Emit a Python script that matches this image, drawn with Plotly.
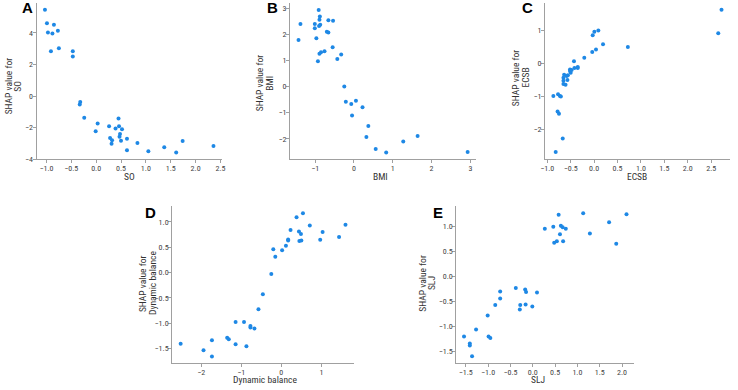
import plotly.graph_objects as go

# ---------------- data ----------------
so_x = [-1.03, -0.99, -0.85, -0.97, -0.88, -0.77, -0.91, -0.75, -0.47, -0.47,
        -0.32, -0.33, -0.24, 0.03, -0.01, 0.26, 0.45, 0.46, 0.39, 0.52,
        0.48, 0.47, 0.28, 0.32, 0.31, 0.50, 0.62, 0.62, 0.83, 1.05,
        1.37, 1.61, 1.74, 2.36]
so_shap = [5.46, 4.60, 4.52, 4.02, 3.96, 4.13, 2.83, 3.02, 2.83, 2.50,
           -0.37, -0.54, -1.37, -1.73, -2.23, -1.91, -1.42, -1.91, -2.05, -2.10,
           -2.40, -2.58, -2.66, -2.79, -3.01, -2.83, -2.70, -3.43, -2.97, -3.50,
           -3.24, -3.57, -2.84, -3.16]

bmi_x = [-1.43, -1.38, -1.01, -1.01, -0.91, -0.88, -0.89, -0.87, -0.90, -0.97,
         -0.66, -0.54, -0.70, -0.66, -0.55, -0.76, -0.85, -0.89, -0.93, -0.43,
         -0.33, -0.25, -0.21, 0.05, -0.07, -0.05, 0.22, 0.37, 0.32, 0.56,
         0.83, 1.27, 1.64, 2.93]
bmi_shap = [1.78, 2.39, 2.39, 2.23, 2.93, 2.68, 2.56, 2.37, 2.32, 1.85,
            2.54, 2.52, 2.10, 2.07, 1.50, 1.35, 1.31, 1.26, 0.97, 1.05,
            1.23, 0.00, -0.58, -0.54, -0.67, -1.11, -0.79, -1.51, -1.93, -2.39,
            -2.52, -2.10, -1.89, -2.51]

ecsb_x = [-0.87, -0.82, -0.77, -0.73, -0.71, -0.78, -0.75, -0.67, -0.655, -0.61,
          -0.655, -0.655, -0.64, -0.57, -0.585, -0.56, -0.515, -0.50, -0.515, -0.48,
          -0.42, -0.43, -0.35, -0.35, -0.21, -0.04, 0.04, -0.03, 0.005, 0.09,
          0.19, 0.72, 2.65, 2.72]
ecsb_shap = [-0.98, -2.68, -0.93, -0.98, -1.00, -1.45, -1.52, -2.27, -0.62, -0.64,
             -0.52, -0.43, -0.34, -0.50, -0.38, -0.36, -0.18, -0.28, -0.23, -0.20,
             -0.14, 0.07, -0.11, -0.14, 0.17, 0.35, 0.42, 0.85, 0.96, 1.00,
             0.58, 0.50, 0.91, 1.62]

db_x = [-2.51, -1.94, -1.73, -1.73, -1.35, -1.31, -1.14, -1.14, -0.93, -0.87,
        -0.77, -0.77, -0.67, -0.57, -0.46, -0.25, -0.20, -0.15, 0.02, 0.115,
        0.17, 0.17, 0.23, 0.38, 0.54, 0.44, 0.49, 0.45, 0.50, 0.71,
        0.97, 1.03, 1.44, 1.60]
db_shap = [-1.41, -1.54, -1.34, -1.66, -1.29, -1.32, -0.98, -1.42, -0.98, -1.46,
           -1.06, -1.09, -1.11, -0.73, -0.43, -0.03, 0.46, 0.31, 0.44, 0.53,
           0.65, 0.63, 0.84, 1.09, 1.17, 0.81, 0.76, 0.62, 0.63, 0.93,
           0.645, 0.80, 0.70, 0.945]

slj_x = [-1.54, -1.41, -1.41, -1.36, -1.27, -1.01, -0.99, -0.95, -0.84, -0.73,
         -0.73, -0.38, -0.17, -0.15, -0.28, -0.16, -0.29, -0.01, 0.095, 0.27,
         0.46, 0.58, 0.63, 0.67, 0.74, 0.61, 0.48, 0.54, 0.68, 1.13,
         1.28, 1.71, 1.87, 2.10]
slj_shap = [-1.20, -1.34, -1.375, -1.59, -1.06, -0.78, -1.20, -1.23, -0.57, -0.30,
            -0.44, -0.23, -0.26, -0.31, -0.57, -0.56, -0.66, -0.60, -0.32, 0.95,
            0.99, 1.23, 1.01, 0.98, 0.95, 0.84, 0.67, 0.70, 0.70, 1.26,
            0.855, 1.08, 0.65, 1.24]

features = ["SO", "BMI", "ECSB", "Dynamic balance", "SLJ"]
letters = ["A", "B", "C", "D", "E"]
ylabel_prefix = "SHAP value for"
xs = [so_x, bmi_x, ecsb_x, db_x, slj_x]
ys = [so_shap, bmi_shap, ecsb_shap, db_shap, slj_shap]

x_ticks = [[-1.0, -0.5, 0.0, 0.5, 1.0, 1.5, 2.0, 2.5],
           [-1, 0, 1, 2, 3],
           [-1.0, -0.5, 0.0, 0.5, 1.0, 1.5, 2.0, 2.5],
           [-2, -1, 0, 1],
           [-1.5, -1.0, -0.5, 0.0, 0.5, 1.0, 1.5, 2.0]]
x_fmt = [".1f", "d", ".1f", "d", ".1f"]
y_ticks = [[-4, -2, 0, 2, 4],
           [-2, -1, 0, 1, 2, 3],
           [-2, -1, 0, 1],
           [-1.5, -1.0, -0.5, 0.0, 0.5, 1.0],
           [-1.5, -1.0, -0.5, 0.0, 0.5, 1.0]]
y_fmt = ["d", "d", "d", ".1f", ".1f"]

# ---------------- layout geometry (pixels) ----------------
W, H = 738, 390
# (left, right, top, bottom) in px
boxes = [(31.9, 219.6, 2.7, 161.5),
         (288.5, 477.0, 3.0, 161.5),
         (546.6, 733.9, 2.8, 161.3),
         (169.3, 353.2, 208.9, 368.2),
         (457.0, 636.4, 208.9, 367.9)]
x_ranges = [[-1.2, 2.53], [-1.65, 3.15], [-1.05, 2.90], [-2.72, 1.81], [-1.71, 2.26]]
y_ranges = [[-4.01, 5.91], [-2.79, 3.20], [-2.895, 1.835], [-1.80, 1.31], [-1.73, 1.40]]

letter_pos = [(23, 8), (271, 8), (529, 8), (147, 215), (438, 215)]
# y-title: (x line 1, x line 2, y centre)
ytitle_pos = [(3.5, 13, 87), (258.5, 268, 84), (517.5, 527, 79),
              (139.5, 149.5, 287), (422.5, 432, 287)]
xtitle_pos = [(126, 179), (380, 179), (640, 179), (263, 384.5), (540, 384.5)]

FONT = "Liberation Sans Narrow, Roboto Condensed, DejaVu Sans Condensed, Open Sans"
AXC = "#a0a0a0"
TXT = "#444444"

fig = go.Figure()
annotations = []
for i in range(5):
    ax = "" if i == 0 else str(i + 1)
    fig.add_trace(go.Scatter(
        x=xs[i], y=ys[i], mode="markers",
        marker=dict(size=4, color="#1E88E5", line=dict(width=0)),
        cliponaxis=False, xaxis="x" + ax, yaxis="y" + ax, hoverinfo="x+y"))
    l, r, t, b = boxes[i]
    common = dict(showline=True, linecolor=AXC, linewidth=1, ticks="outside",
                  ticklen=3, tickwidth=1, tickcolor=AXC, showgrid=False,
                  zeroline=False, ticklabelstandoff=-2,
                  tickfont=dict(family=FONT, size=8, color=TXT))
    fig.update_layout(**{
        "xaxis" + ax: dict(domain=[l / W, r / W], range=x_ranges[i],
                           anchor="y" + ax, tickvals=x_ticks[i],
                           tickformat=x_fmt[i], **common),
        "yaxis" + ax: dict(domain=[1 - b / H, 1 - t / H], range=y_ranges[i],
                           anchor="x" + ax, tickvals=y_ticks[i],
                           tickformat=y_fmt[i], **common),
    })
    lx, ly = letter_pos[i]
    annotations.append(dict(x=lx / W, y=1 - ly / H, xref="paper", yref="paper",
                            text="<b>" + letters[i] + "</b>", showarrow=False,
                            font=dict(family="Liberation Sans", size=15, color="#000"),
                            xanchor="center", yanchor="middle"))
    t1, t2, ty = ytitle_pos[i]
    for tx, txt in ((t1, ylabel_prefix), (t2, features[i])):
        annotations.append(dict(x=tx / W, y=1 - ty / H, xref="paper", yref="paper",
                                text=txt, showarrow=False, textangle=-90,
                                font=dict(family=FONT, size=9.5, color="#333"),
                                xanchor="center", yanchor="middle"))
    qx, qy = xtitle_pos[i]
    annotations.append(dict(x=qx / W, y=1 - qy / H, xref="paper", yref="paper",
                            text=features[i], showarrow=False,
                            font=dict(family=FONT, size=9.5, color="#333"),
                            xanchor="center", yanchor="middle"))

fig.update_layout(width=W, height=H, margin=dict(l=0, r=0, t=0, b=0),
                  plot_bgcolor="white", paper_bgcolor="white",
                  showlegend=False, annotations=annotations)

fig.write_html("out.html")
